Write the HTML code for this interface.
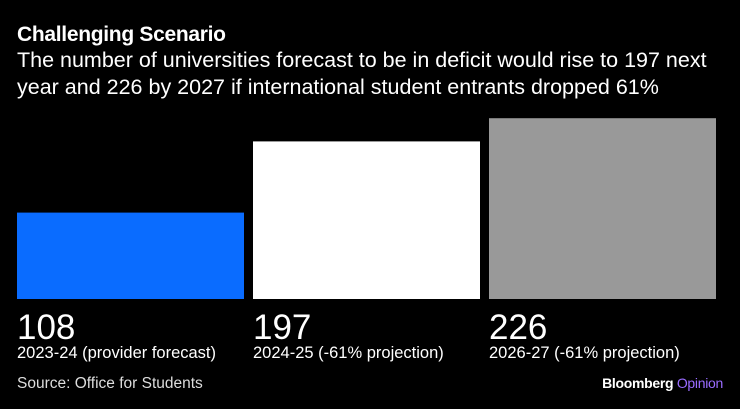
<!DOCTYPE html>
<html><head><meta charset="utf-8">
<style>
body{margin:0;background:#000;width:740px;height:409px;overflow:hidden;font-family:"Liberation Sans",sans-serif;color:#fff;position:relative}
.t{position:absolute;left:17px;top:23px;font-weight:bold;font-size:21px;letter-spacing:-0.3px}
.s{position:absolute;left:17px;top:47px;font-size:21.5px;line-height:27px;white-space:nowrap}
.src{position:absolute;left:17px;top:375px;font-size:15.5px;color:#ddd}
.logo{position:absolute;right:17px;top:375px;font-size:14px;font-weight:bold;letter-spacing:-0.3px}
</style></head><body>
<div class="t">Challenging Scenario</div>
<div class="s">The number of universities forecast to be in deficit would rise to 197 next<br>year and 226 by 2027 if international student entrants dropped 61%</div>
<svg id="c" width="740" height="409" style="position:absolute;left:0;top:0"></svg>
<div class="src">Source: Office for Students</div>
<div class="logo">Bloomberg <span style="color:#9a6cff;font-weight:normal">Opinion</span></div>
<script>
const categories=["2023-24 (provider forecast)","2024-25 (-61% projection)","2026-27 (-61% projection)"];
const values=[108,197,226];
const colors=["#0a6cff","#ffffff","#999999"];
const svg=document.getElementById('c');
const NS="http://www.w3.org/2000/svg";
const base=299, scale=0.8, x0=17, bw=227, gap=9;
const y=v=>base-v*scale;
categories.forEach((c,i)=>{
  const x=x0+i*(bw+gap);
  const r=document.createElementNS(NS,'rect');
  r.setAttribute('x',x);r.setAttribute('y',y(values[i]));r.setAttribute('width',bw);r.setAttribute('height',base-y(values[i]));r.setAttribute('fill',colors[i]);
  
  
  svg.appendChild(r);
  const v=document.createElementNS(NS,'text');
  v.setAttribute('x',x);v.setAttribute('y',339);v.setAttribute('fill','#fff');v.setAttribute('font-size','35');v.setAttribute('font-family','Liberation Sans');
  v.textContent=values[i];
  
  
  svg.appendChild(v);
  const l=document.createElementNS(NS,'text');
  l.setAttribute('x',x);l.setAttribute('y',358);l.setAttribute('fill','#fff');l.setAttribute('font-size','16.5');l.setAttribute('font-family','Liberation Sans');
  l.textContent=c;
  
  
  svg.appendChild(l);
});
</script>
</body></html>
